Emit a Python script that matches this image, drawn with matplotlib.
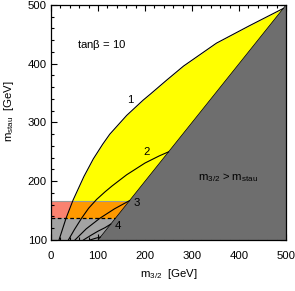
import matplotlib
matplotlib.use("Agg")
import matplotlib.pyplot as plt
import numpy as np
from matplotlib.ticker import MultipleLocator

plt.rcParams['font.family'] = ['Liberation Sans', 'DejaVu Sans']

# curve values (m3/2, mstau) in GeV
c1_x = [17, 32, 47, 70, 90, 110, 125, 161, 196, 211, 246, 282, 352, 423, 494]
c1_y = [100, 137, 168, 208, 238, 263, 280, 312, 338, 348, 372, 396, 435, 465, 494]
c2_x = [37, 50, 65, 80, 97, 115, 130, 161, 200, 230, 250]
c2_y = [100, 118, 137, 154, 169, 182, 192, 211, 231, 243, 250]
c3_x = [51, 75, 104, 135, 167]
c3_y = [100, 119, 137, 153, 167]
c4_x = [69, 85, 100, 115, 127]
c4_y = [100, 108, 115, 121, 127]
c5_x = [83, 95, 105]
c5_y = [100, 103, 105]

band_lo = 137
band_hi = 167
labels = ['1', '2', '3', '4']
label_x = [168, 204, 183, 143]
label_y = [338, 250, 163, 124]

YELLOW = '#ffff00'
ORANGE = '#ff9900'
SALMON = '#fa8270'
LGRAY = '#a3a3a3'
DGRAY = '#6e6e6e'
FS = 8.2

fig = plt.figure(figsize=(2.95, 2.91), dpi=100)
ax = fig.add_axes([0.1729, 0.1753, 0.7966, 0.8076])

# regions
ax.fill_between([0, 500], 100, band_lo, color=LGRAY, lw=0, zorder=1)
ax.fill_between([0, 500], band_lo, band_hi, color=SALMON, lw=0, zorder=1)
yy = np.array(c1_y, dtype=float)
xx = np.array(c1_x, dtype=float)
m = yy > band_lo
ax.fill_betweenx(np.r_[band_lo, yy[m]], np.r_[np.interp(band_lo, yy, xx), xx[m]],
                 np.r_[band_lo, yy[m]], color=YELLOW, lw=0, zorder=1)
ax.fill_betweenx([band_lo, band_hi],
                 [np.interp(band_lo, yy, xx), np.interp(band_hi, yy, xx)],
                 [band_lo, band_hi], color=ORANGE, lw=0, zorder=1.5)
ax.plot([0, band_hi], [band_hi, band_hi], color='#999999', lw=0.8, zorder=2)
ax.fill([100, 500, 500], [100, 500, 100], color=DGRAY, lw=0, zorder=3)
ax.plot([100, 500], [100, 500], color='black', lw=0.5, zorder=4)
ax.plot([0, band_lo], [band_lo, band_lo], color='black', lw=0.9, ls=(0, (3, 2)), zorder=4)

for cx, cy in [(c1_x, c1_y), (c2_x, c2_y), (c3_x, c3_y), (c4_x, c4_y), (c5_x, c5_y)]:
    ax.plot(cx, cy, color='black', lw=0.8, zorder=4)

for t, x, y in zip(labels, label_x, label_y):
    ax.text(x, y, t, fontsize=FS, ha='center', va='center', zorder=5)

ax.text(55, 432, r'tan$\mathregular{\beta}$ = 10', fontsize=FS, va='center', zorder=5)
ax.text(377, 207, r'm$_{\mathregular{3/2}}$ > m$_{\mathregular{stau}}$', fontsize=FS,
        ha='center', va='center', zorder=5)

ax.set_xlim(0, 500)
ax.set_ylim(100, 500)
ax.xaxis.set_major_locator(MultipleLocator(100))
ax.yaxis.set_major_locator(MultipleLocator(100))
ax.xaxis.set_minor_locator(MultipleLocator(20))
ax.yaxis.set_minor_locator(MultipleLocator(20))
ax.tick_params(which='both', direction='in', top=True, right=True, labelsize=FS, width=0.8)
ax.tick_params(which='major', length=4.5)
ax.tick_params(which='minor', length=2.2)
ax.tick_params(axis='x', which='major', pad=8)
ax.tick_params(axis='y', which='major', pad=3)
for s in ax.spines.values():
    s.set_linewidth(0.9)
    s.set_zorder(6)

ax.set_xlabel(r'm$_{\mathregular{3/2}}$  [GeV]', fontsize=FS, labelpad=4)
ax.set_ylabel(r'm$_{\mathregular{stau}}$  [GeV]', fontsize=FS)
ax.yaxis.set_label_coords(-0.15, 0.55)

fig.savefig('out.png', dpi=100)
